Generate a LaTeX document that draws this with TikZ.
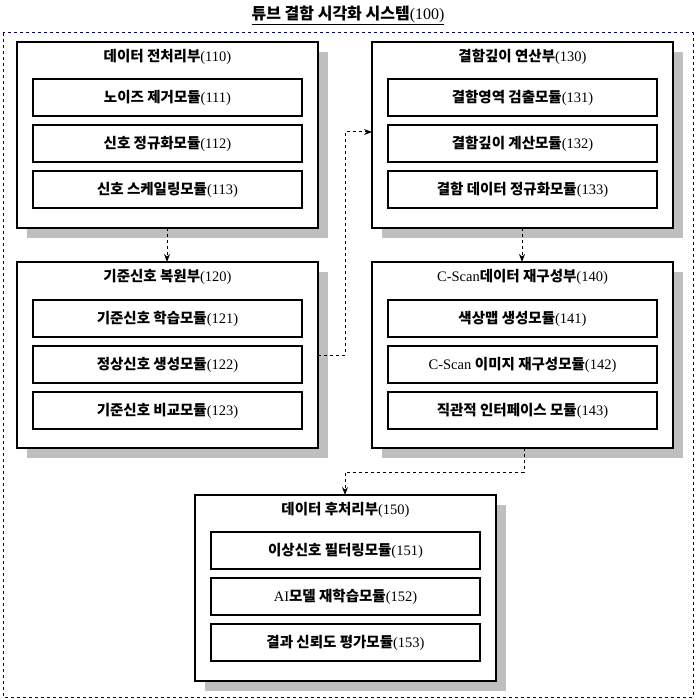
\documentclass[tikz,border=0pt]{standalone}
\usepackage{fontspec}
\setmainfont{Liberation Serif}
\newfontfamily\krf{Noto Sans CJK KR}
\newcommand{\kr}[1]{{\krf\bfseries #1}}
\usetikzlibrary{arrows.meta}
\begin{document}
\begin{tikzpicture}[x=1pt,y=-1pt,
  grp/.style={draw=black,line width=1.2pt,fill=white},
  mod/.style={draw=black,line width=1.2pt,fill=white,minimum width=269pt,minimum height=37pt,font=\fontsize{14.5}{16}\selectfont},
  ttl/.style={font=\fontsize{14.5}{16}\selectfont},
  shd/.style={fill=black!25},
  con/.style={dashed,line width=1pt,-{Stealth[length=8pt,width=6pt]}}]
\useasboundingbox (0,0) rectangle (697,700);
\node[font=\fontsize{16}{18}\selectfont] (title) at (348,15) {\underline{\kr{튜브 결함 시각화 시스템}(100)}};
\draw[dashed,draw=black!60!blue,line width=1pt] (3,33) rectangle (693,697);
% groups
\foreach \n/\x/\y in {A/17/42,B/17/262,C/372/42,D/372/262,E/195/495}{
  \fill[shd] (\x+10,\y+10) rectangle (\x+311,\y+196);
  \draw[grp] (\x,\y) rectangle (\x+301,\y+186);
  \coordinate (\n) at (\x,\y);
}
\node[ttl] (t110) at (167.5,57) {\kr{데이터 전처리부}(110)};
\node[mod] (m111) at (167.5,97.5) {\kr{노이즈 제거모듈}(111)};
\node[mod] (m112) at (167.5,143.5) {\kr{신호 정규화모듈}(112)};
\node[mod] (m113) at (167.5,189.5) {\kr{신호 스케일링모듈}(113)};
\node[ttl] (t120) at (167.5,277) {\kr{기준신호 복원부}(120)};
\node[mod] (m121) at (167.5,318.5) {\kr{기준신호 학습모듈}(121)};
\node[mod] (m122) at (167.5,364.5) {\kr{정상신호 생성모듈}(122)};
\node[mod] (m123) at (167.5,410.5) {\kr{기준신호 비교모듈}(123)};
\node[ttl] (t130) at (522.5,57) {\kr{결함깊이 연산부}(130)};
\node[mod] (m131) at (522.5,97.5) {\kr{결함영역 검출모듈}(131)};
\node[mod] (m132) at (522.5,143.5) {\kr{결함깊이 계산모듈}(132)};
\node[mod] (m133) at (522.5,189.5) {\kr{결함 데이터 정규화모듈}(133)};
\node[ttl] (t140) at (522.5,277) {C-Scan\kr{데이터 재구성부}(140)};
\node[mod] (m141) at (522.5,318.5) {\kr{색상맵 생성모듈}(141)};
\node[mod] (m142) at (522.5,364.5) {C-Scan \kr{이미지 재구성모듈}(142)};
\node[mod] (m143) at (522.5,410.5) {\kr{직관적 인터페이스 모듈}(143)};
\node[ttl] (t150) at (345.5,510) {\kr{데이터 후처리부}(150)};
\node[mod] (m151) at (345.5,550.5) {\kr{이상신호 필터링모듈}(151)};
\node[mod] (m152) at (345.5,596.5) {AI\kr{모델 재학습모듈}(152)};
\node[mod] (m153) at (345.5,642.5) {\kr{결과 신뢰도 평가모듈}(153)};
% connectors
\coordinate (a1) at (167,228); \coordinate (a2) at (167,262);
\draw[con] (a1) -- (a2);
\coordinate (b1) at (318,355); \coordinate (b2) at (372,132);
\draw[con] (b1) -- (345,355) -- (345,132) -- (b2);
\coordinate (c1) at (522,228); \coordinate (c2) at (522,262);
\draw[con] (c1) -- (c2);
\coordinate (d1) at (524,448); \coordinate (d2) at (345,495);
\draw[con] (d1) -- (524,472) -- (345,472) -- (d2);
\end{tikzpicture}
\end{document}
